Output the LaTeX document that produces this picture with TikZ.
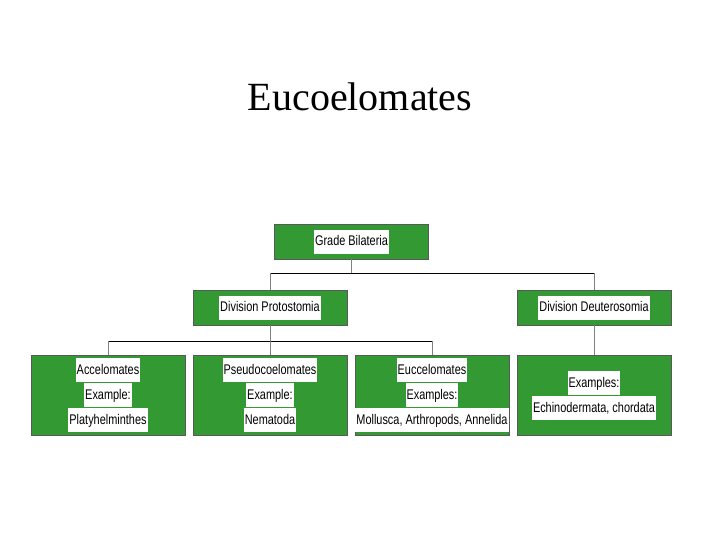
\documentclass[tikz,border=0pt]{standalone}
\usepackage{fontspec}
\setmainfont{Liberation Serif}
\newfontfamily\nar[FakeStretch=0.78]{Liberation Sans}
\newcommand\wl[1]{{\setlength\fboxsep{1pt}\colorbox{white}{\strut #1}}}
\definecolor{gr}{HTML}{339933}
\begin{document}
\begin{tikzpicture}[x=1pt,y=-1pt,
  gbox/.style={draw=gray!70!black,fill=gr,minimum height=35pt,minimum width=154pt,inner sep=0pt,font=\nar\fontsize{14}{22}\selectfont,align=center},
  bbox/.style={gbox,minimum height=80pt,anchor=north},
  ln/.style={draw=black,line width=1pt}]
\useasboundingbox (0,0) rectangle (720,540);
\node (title) at (360,97) {\fontsize{40}{44}\selectfont Eucoelomates};
\node[gbox] (top) at (351.5,241.5) {\wl{Grade Bilateria}};
\node[gbox] (dp) at (270,307.5) {\wl{Division Protostomia}};
\node[gbox] (dd) at (594,307.5) {\wl{Division Deuterosomia}};
\node[bbox] (a) at (108,355) {\wl{Accelomates}\\\wl{Example:}\\\wl{Platyhelminthes}};
\node[bbox] (p) at (270,355) {\wl{Pseudocoelomates}\\\wl{Example:}\\\wl{Nematoda}};
\node[bbox] (e) at (432,355) {\wl{Euccelomates}\\\wl{Examples:}\\\wl{Mollusca, Arthropods, Annelida}};
\node[bbox] (x) at (594,355) {\wl{Examples:}\\\wl{Echinodermata, chordata}};
\coordinate (h1) at (351.5,273);
\coordinate (h2) at (270,341);
\draw[gray] (top.south) -- (h1);
\draw[ln] (270,273) -- (594,273);
\draw[gray] (dp.north) -- (270,273);
\draw[gray] (dd.north) -- (594,273);
\draw[ln] (108,341) -- (432,341);
\draw[gray] (dp.south) -- (p.north);
\draw[gray] (a.north) -- (108,341);
\draw[gray] (e.north) -- (432,341);
\draw[gray] (dd.south) -- (x.north);
\end{tikzpicture}
\end{document}
